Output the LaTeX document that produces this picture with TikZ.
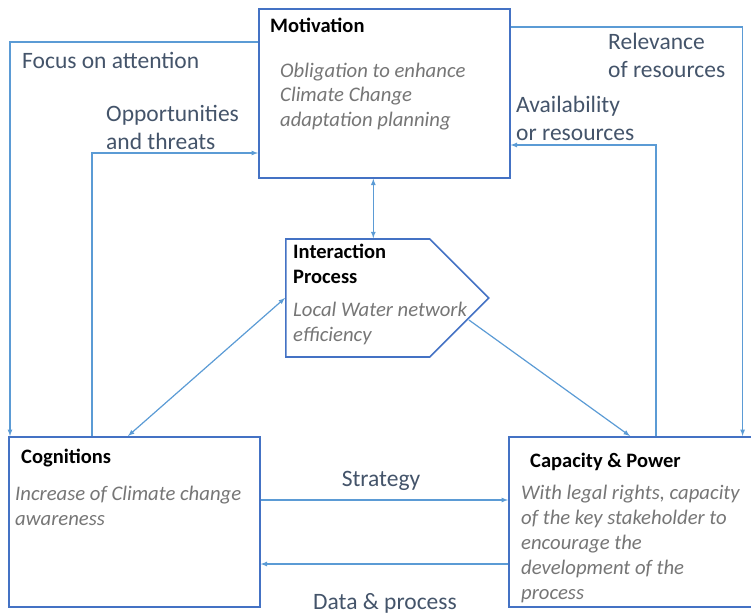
\documentclass[tikz,border=0pt]{standalone}
\usepackage{fontspec}
\setmainfont{Carlito}
\usetikzlibrary{shapes.symbols, arrows}
\definecolor{linkblue}{RGB}{91,155,213}
\definecolor{boxblue}{RGB}{68,114,196}
\definecolor{labelgray}{RGB}{68,84,106}
\definecolor{notegray}{RGB}{118,118,118}
\tikzstyle{block} = [rectangle, draw=boxblue, line width=1.6pt, fill=white, inner sep=0pt, anchor=north west]
\tikzstyle{process} = [signal, signal to=east, signal pointer angle=90, draw=boxblue, line width=1.6pt, fill=white, inner sep=0pt, minimum width=203pt, minimum height=118pt, anchor=west]
\tikzstyle{title} = [anchor=west, inner sep=0pt, align=left, font=\fontsize{20.5}{25}\selectfont\bfseries]
\tikzstyle{note} = [anchor=west, inner sep=0pt, align=left, text=notegray, font=\fontsize{20.7}{24.8}\selectfont\itshape]
\tikzstyle{label} = [anchor=west, inner sep=0pt, align=left, text=labelgray, font=\fontsize{23.5}{28}\selectfont]
\tikzstyle{arrow} = [draw=linkblue, line width=1.2pt, ->, >=latex]

\begin{document}
\begin{tikzpicture}[x=1pt, y=-1pt]
        \useasboundingbox (0,0) rectangle (751,615);
        % boxes
        \node (mot) [block, minimum width=251pt, minimum height=169pt] at (258,8) {};
        \node (cog) [block, minimum width=251pt, minimum height=170pt] at (8,436) {};
        \node (cap) [block, minimum width=244pt, minimum height=170pt] at (508,436) {};
        \node (inter) [process] at (285,298) {};

        \node (motT) [title] at (270,25) {Motivation};
        \node (motN) [note] at (280,96.5) {Obligation to enhance\\Climate Change\\adaptation planning};
        \node (interT) [title] at (293,264) {Interaction\\Process};
        \node (interN) [note] at (293,323.5) {Local Water network\\efficiency};
        \node (cogT) [title] at (21,458) {Cognitions};
        \node (cogN) [note] at (15,506) {Increase of Climate change\\awareness};
        \node (capT) [title] at (530,462) {Capacity \& Power};
        \node (capN) [note] at (521,544) {With legal rights, capacity\\of the key stakeholder to\\encourage the\\development of the\\process};

        % labels
        \node (focus) [label] at (22,60) {Focus on attention};
        \node (opp) [label] at (106,127) {Opportunities\\and threats};
        \node (rel) [label] at (608,55) {Relevance\\of resources};
        \node (avail) [label] at (516,118) {Availability\\or resources};
        \node (strat) [label, anchor=center] at (381,481) {Strategy};
        \node (data) [label, anchor=center] at (385,603) {Data \& process};

        % links
        \draw [arrow] ([yshift=-34pt]mot.north west) -| ([xshift=2pt]cog.north west);
        \draw [arrow] ([xshift=84pt]cog.north west) |- ([yshift=-145pt]mot.north west);
        \draw [arrow] ([yshift=-19pt]mot.north east) -| ([xshift=-11pt]cap.north east);
        \draw [arrow] ([xshift=148pt]cap.north west) |- ([yshift=-137pt]mot.north east);
        \draw [arrow, <->] ([xshift=-11pt]mot.south) -- ([xshift=-11pt]mot.south |- inter.north);
        \draw [arrow, <->] ([xshift=120pt]cog.north west) -- (inter.west);
        \draw [arrow] ([xshift=-21pt, yshift=-22pt]inter.east) -- ([xshift=122pt]cap.north west);
        \draw [arrow] ([yshift=-64pt]cog.north east) -- ([yshift=-64pt]cap.north west);
        \draw [arrow] ([yshift=-128pt]cap.north west) -- ([yshift=-128pt]cog.north east);
      \end{tikzpicture}
\end{document}
